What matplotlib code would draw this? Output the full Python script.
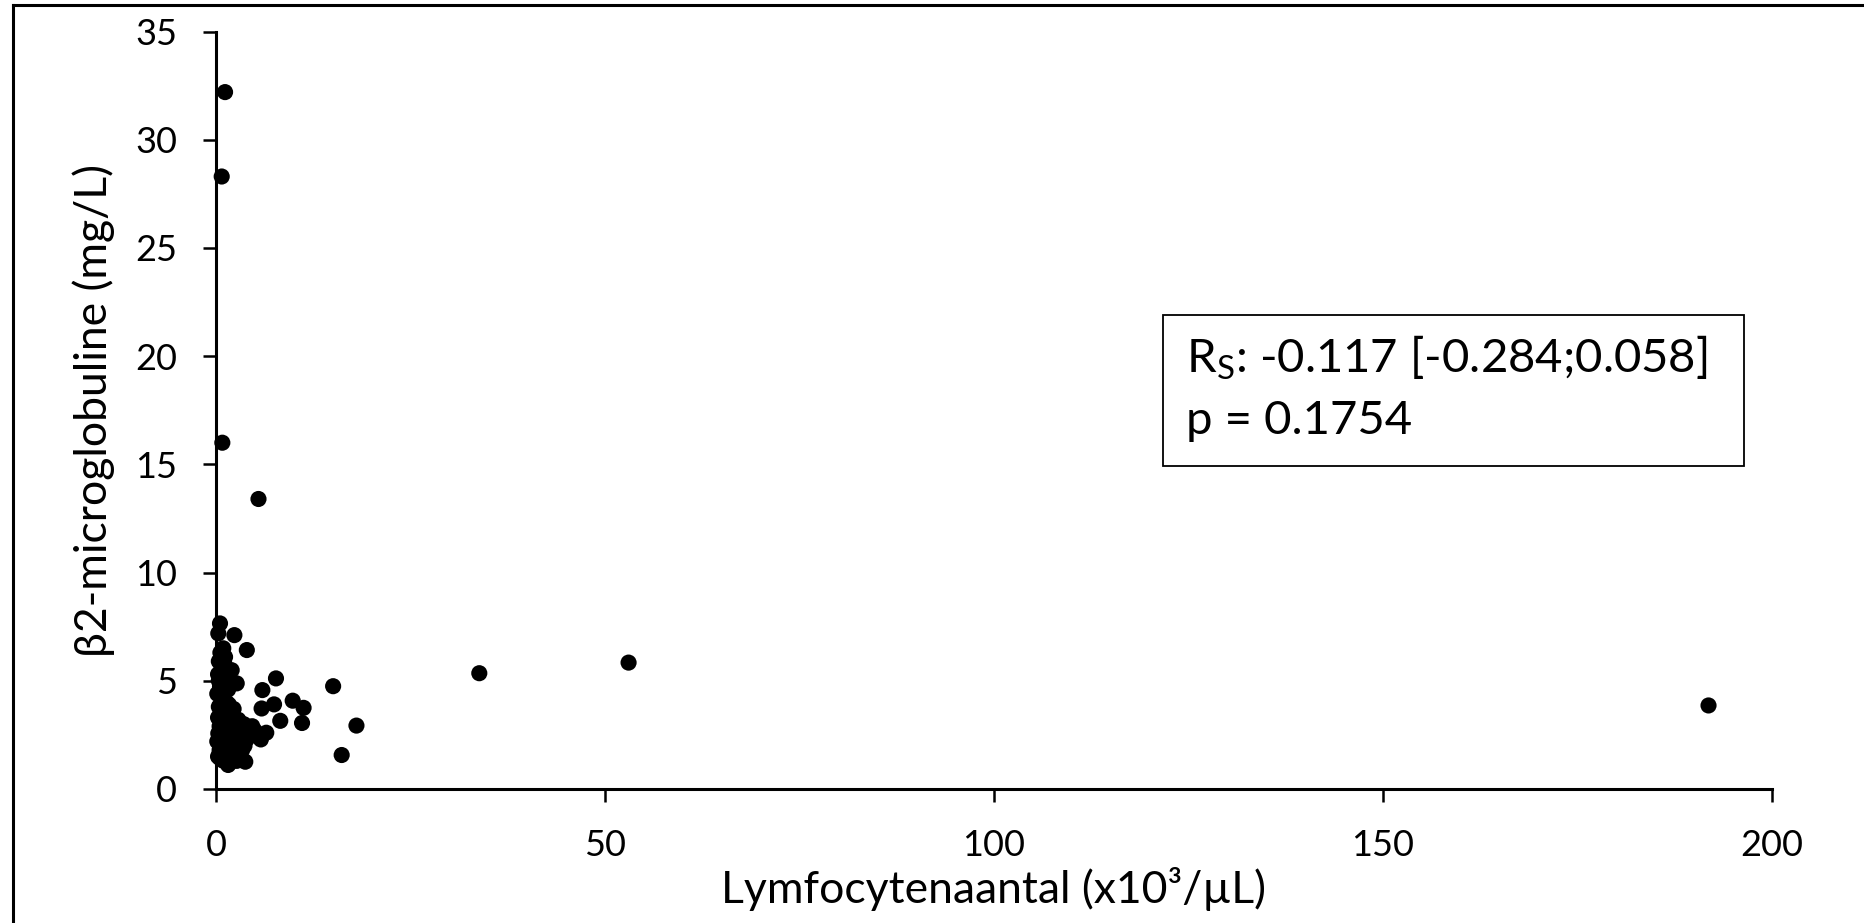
import matplotlib
matplotlib.use("Agg")
import matplotlib.pyplot as plt
from matplotlib.lines import Line2D
from matplotlib.patches import Rectangle

# Data
lymfo_x = [1.1, 0.67, 0.75, 5.4, 33.8, 53.0, 191.9,
           15.0, 16.1, 18.0, 11.2, 11.0, 9.8, 8.2, 7.65, 7.4, 5.9, 5.8, 5.7,
           0.45, 0.23, 2.3, 3.9, 0.87, 1.1, 0.3, 0.67, 1.95, 0.2, 1.2, 2.6, 0.45,
           1.5, 0.1, 0.8, 0.67, 1.6, 0.3, 0.67, 1.2, 2.0, 0.2, 0.9, 1.5, 2.5, 3.5,
           4.1, 0.4, 1.0, 1.8, 2.8, 0.23, 0.7, 1.3, 2.2, 3.2, 4.5, 5.6, 0.1, 0.8,
           1.6, 2.6, 3.6, 0.4, 1.2, 2.0, 3.0, 0.45, 1.5, 3.7, 2.6, 0.9, 4.6, 4.2,
           3.3, 2.4, 1.8, 0.2, 1.0, 0.5, 1.7, 0.3, 1.3, 2.2, 2.8, 3.9, 0.6, 1.1,
           0.5, 1.4, 2.9, 6.4, 4.9, 3.0]
b2m_y = [32.2, 28.3, 16.0, 13.4, 5.35, 5.84, 3.86,
         4.75, 1.57, 2.93, 3.75, 3.05, 4.08, 3.15, 5.11, 3.91, 4.57, 3.72, 2.29,
         7.65, 7.19, 7.11, 6.42, 6.5, 6.1, 5.9, 5.57, 5.49, 5.3, 5.2, 4.88, 4.72,
         4.6, 4.4, 4.3, 4.1, 3.9, 3.8, 3.65, 3.5, 3.4, 3.3, 3.2, 3.1, 3.0, 3.0,
         2.88, 2.9, 2.8, 2.7, 2.6, 2.57, 2.5, 2.4, 2.3, 2.35, 2.5, 2.49, 2.2, 2.1,
         2.0, 1.95, 2.0, 1.8, 1.7, 1.6, 1.55, 1.42, 1.11, 1.26, 1.3, 1.3, 2.9, 2.6,
         1.8, 1.4, 1.25, 1.5, 5.8, 6.3, 5.0, 5.0, 4.0, 3.7, 3.2, 2.3, 3.0, 2.6,
         2.2, 1.9, 2.1, 2.6, 2.7, 1.4]

x_ticks = [0, 50, 100, 150, 200]
y_ticks = [0, 5, 10, 15, 20, 25, 30, 35]
x_label = "Lymfocytenaantal (x10³/µL)"
y_label = "β2-microglobuline (mg/L)"

FONT = ["Lato", "DejaVu Sans"]
plt.rcParams["font.family"] = FONT
plt.rcParams["mathtext.fontset"] = "custom"
plt.rcParams["mathtext.rm"] = "Lato"
plt.rcParams["mathtext.it"] = "Lato:italic"

W, H = 1865, 923
fig = plt.figure(figsize=(W / 100, H / 100), dpi=100)
ax = fig.add_axes([216.5 / W, 1 - 789 / H, (1771.5 - 216.5) / W, (789 - 31.5) / H])

ax.scatter(lymfo_x, b2m_y, s=135, color="black", edgecolors="none", zorder=3, clip_on=False)

ax.set_xlim(0, 200)
ax.set_ylim(0, 35)
ax.set_xticks(x_ticks)
ax.set_yticks(y_ticks)
for s in ["top", "right"]:
    ax.spines[s].set_visible(False)
for s in ["left", "bottom"]:
    ax.spines[s].set_linewidth(2.2)
    ax.spines[s].set_color("black")
ax.tick_params(axis="both", direction="out", length=9.5, width=1.8, pad=19,
               labelsize=26, colors="black")
ax.set_xlabel(x_label, fontsize=32, labelpad=4)
ax.set_ylabel(y_label, fontsize=32, labelpad=14)

# Annotation box
fig.patches.append(Rectangle((1163 / W, 1 - 466 / H), (1744 - 1163) / W, (466 - 315) / H,
                             transform=fig.transFigure, fill=False, edgecolor="black",
                             linewidth=1.3, figure=fig))
fig.text(1186 / W, 1 - 358 / H, r"R$_\mathrm{S}$: -0.117 [-0.284;0.058]", fontsize=34,
         va="center", ha="left")
fig.text(1186 / W, 1 - 421 / H, "p = 0.1754", fontsize=34, va="center", ha="left")

# Outer frame (left and top edges visible)
fig.lines.append(Line2D([13 / W, 13 / W], [0, 1 - 5 / H], transform=fig.transFigure,
                        color="black", linewidth=2.2))
fig.lines.append(Line2D([13 / W, 1], [1 - 5 / H, 1 - 5 / H], transform=fig.transFigure,
                        color="black", linewidth=2.2))

fig.savefig("out.png", dpi=100)
